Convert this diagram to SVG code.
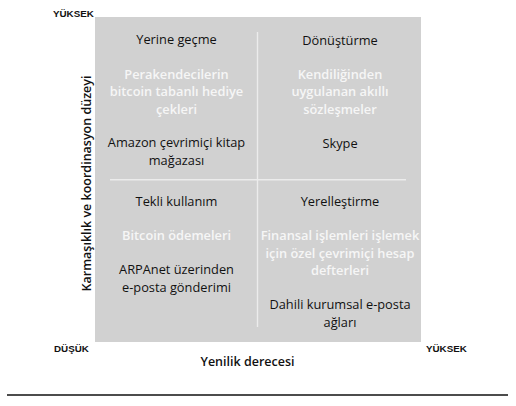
<svg xmlns="http://www.w3.org/2000/svg" width="516" height="406" viewBox="0 0 516 406">
<style>
.t{font-family:"Open Sans","Liberation Sans",sans-serif;font-size:12.8px;text-anchor:middle;font-weight:500}
.b{fill:#111}
.w{fill:#f6f6f6;font-weight:600}
.ax{font-family:"Liberation Sans",Arial,sans-serif;font-size:9.8px;font-weight:bold;fill:#111}
.lab{font-family:"Open Sans","Liberation Sans",sans-serif;font-size:12.5px;font-weight:600;fill:#111;text-anchor:middle}
.div{stroke:#ececec;stroke-width:1.4;fill:none}
</style>
<rect width="516" height="406" fill="#fff"/>
<g id="chart">
<rect x="95" y="17" width="326" height="325" fill="#d1d1d1"/>
</g>
<g id="connectors">
<line class="div" x1="257.5" y1="32" x2="257.5" y2="327"/>
<line class="div" x1="110" y1="179.7" x2="406" y2="179.7"/>
<line x1="7" y1="395" x2="508" y2="395" stroke="#111" stroke-width="1.4"/>
</g>
<g id="q-top-left">
<text class="t b" x="176.5" y="44">Yerine geçme</text>
<text class="t w" x="176.5" y="78.5">Perakendecilerin</text>
<text class="t w" x="176.5" y="96">bitcoin tabanlı hediye</text>
<text class="t w" x="176.5" y="113.5">çekleri</text>
<text class="t b" x="176.5" y="147">Amazon çevrimiçi kitap</text>
<text class="t b" x="176.5" y="164.5">mağazası</text>
</g>
<g id="q-top-right">
<text class="t b" x="340" y="44.5">Dönüştürme</text>
<text class="t w" x="340" y="78.5">Kendiliğinden</text>
<text class="t w" x="340" y="96">uygulanan akıllı</text>
<text class="t w" x="340" y="113.5">sözleşmeler</text>
<text class="t b" x="340" y="147.5">Skype</text>
</g>
<g id="q-bottom-left">
<text class="t b" x="176.5" y="206">Tekli kullanım</text>
<text class="t w" x="176.5" y="240">Bitcoin ödemeleri</text>
<text class="t b" x="176.5" y="274">ARPAnet üzerinden</text>
<text class="t b" x="176.5" y="291.5">e-posta gönderimi</text>
</g>
<g id="q-bottom-right">
<text class="t b" x="340" y="206">Yerelleştirme</text>
<text class="t w" x="340" y="240">Finansal işlemleri işlemek</text>
<text class="t w" x="340" y="257.5">için özel çevrimiçi hesap</text>
<text class="t w" x="340" y="275">defterleri</text>
<text class="t b" x="340" y="309">Dahili kurumsal e-posta</text>
<text class="t b" x="340" y="326.5">ağları</text>
</g>
<g id="axes">
<text class="ax" x="53" y="16.5">YÜKSEK</text>
<text class="ax" x="54" y="352">DÜŞÜK</text>
<text class="ax" x="426" y="352">YÜKSEK</text>
<text class="lab" x="247.5" y="365.5">Yenilik derecesi</text>
<text class="lab" transform="translate(90.5,183.5) rotate(-90)" x="0" y="0">Karmaşıklık ve koordinasyon düzeyi</text>
</g>
</svg>
